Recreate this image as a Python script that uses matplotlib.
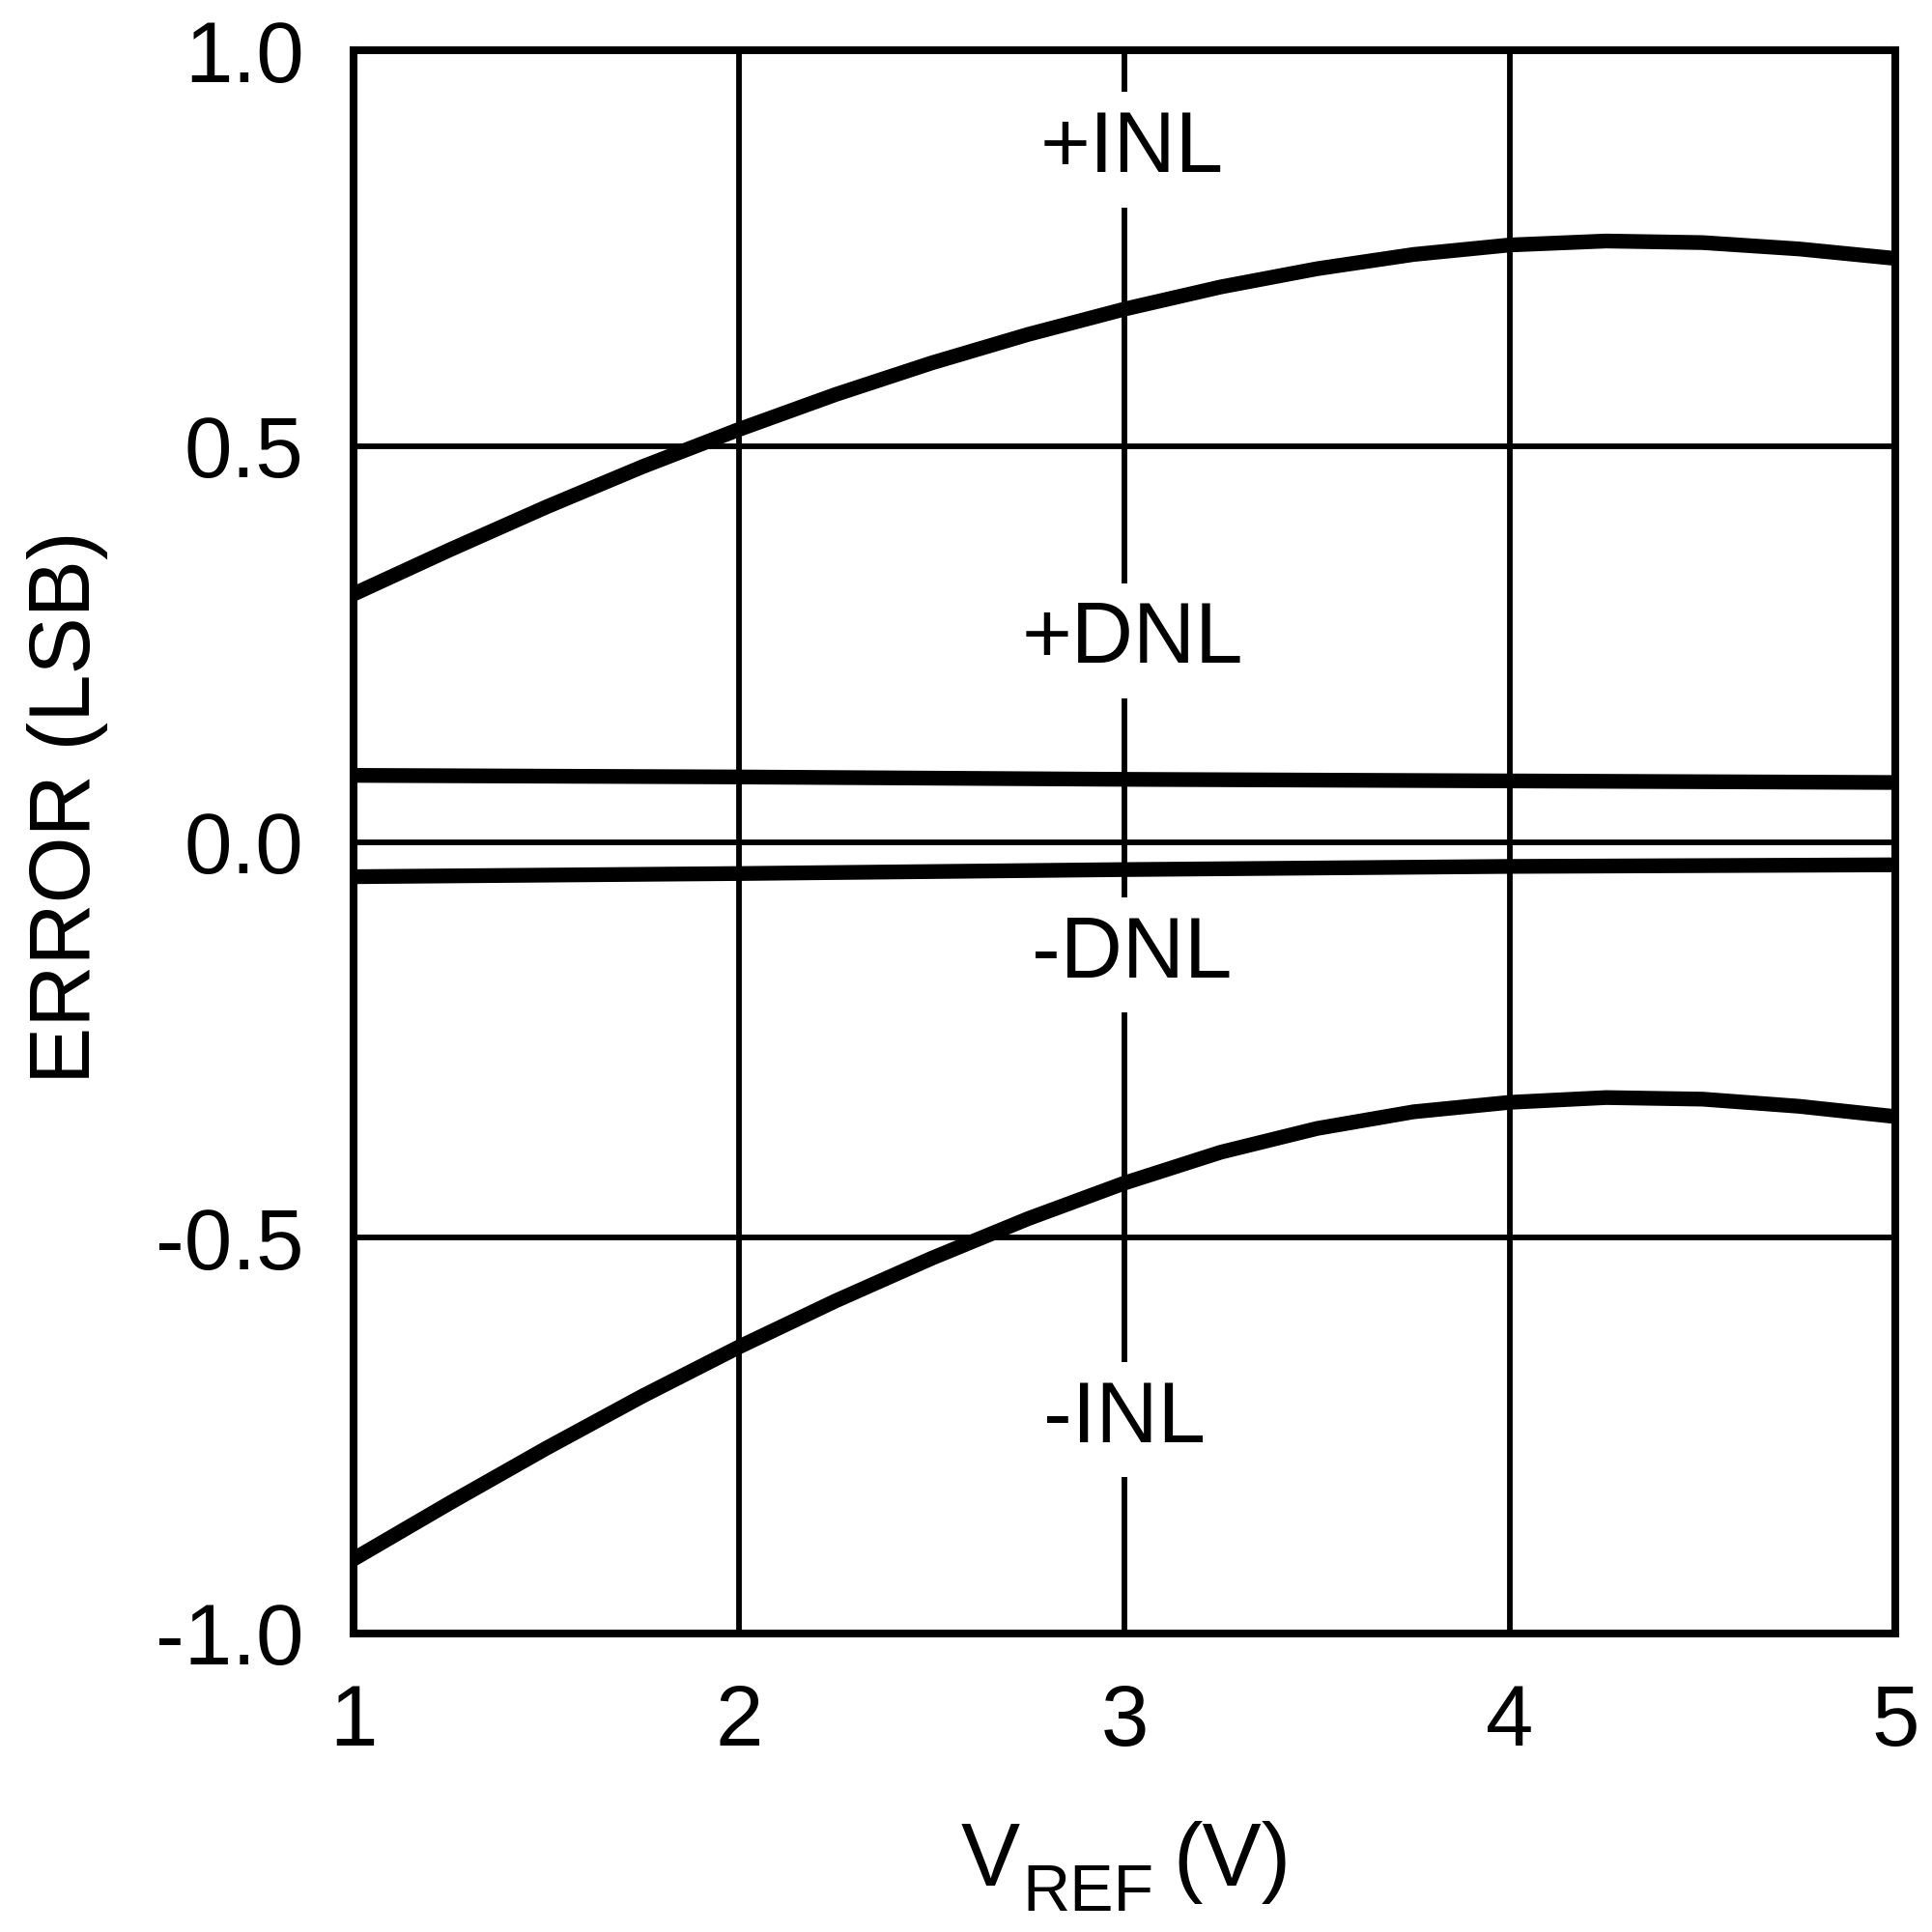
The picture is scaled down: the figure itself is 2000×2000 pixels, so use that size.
import matplotlib.pyplot as plt

plt.rcParams['font.family'] = 'Liberation Sans'

# data
vref = [1.0, 1.25, 1.5, 1.75, 2.0, 2.25, 2.5, 2.75, 3.0,
        3.25, 3.5, 3.75, 4.0, 4.25, 4.5, 4.75, 5.0]
inl_pos = [0.313, 0.369, 0.423, 0.474, 0.521, 0.565, 0.605, 0.641, 0.673,
           0.701, 0.724, 0.742, 0.754, 0.759, 0.757, 0.749, 0.737]
inl_neg = [-0.906, -0.835, -0.766, -0.700, -0.638, -0.580, -0.526, -0.476, -0.431,
           -0.392, -0.362, -0.341, -0.329, -0.323, -0.325, -0.334, -0.347]
dnl_vref = [1.0, 2.0, 3.0, 4.0, 5.0]
dnl_pos = [0.084, 0.082, 0.079, 0.077, 0.075]
dnl_neg = [-0.044, -0.040, -0.035, -0.031, -0.029]

xticks = [1, 2, 3, 4, 5]
yticks = [-1.0, -0.5, 0.0, 0.5, 1.0]
ytick_labels = ['-1.0', '-0.5', '0.0', '0.5', '1.0']

# curve labels: (x, y baseline, text)
labels = [(3.02, 0.846, '+INL'),
          (3.02, 0.226, '+DNL'),
          (3.02, -0.171, '-DNL'),
          (3.00, -0.758, '-INL')]

fig = plt.figure(figsize=(20, 20), dpi=100)
ax = fig.add_axes([366 / 2000, 309 / 2000, 1596 / 2000, 1639 / 2000])

for ys in (inl_pos, inl_neg):
    ax.plot(vref, ys, color='black', lw=11, solid_capstyle='butt',
            solid_joinstyle='round', zorder=2)
for ys in (dnl_pos, dnl_neg):
    ax.plot(dnl_vref, ys, color='black', lw=11, solid_capstyle='butt',
            solid_joinstyle='round', zorder=2)

for x, y, s in labels:
    ax.text(x, y, s, ha='center', va='baseline', fontsize=64, zorder=3,
            bbox=dict(facecolor='white', edgecolor='none', boxstyle='square,pad=0.2'))

ax.set_xlim(1, 5)
ax.set_ylim(-1, 1)
ax.set_xticks(xticks)
ax.set_xticklabels([str(t) for t in xticks])
ax.set_yticks(yticks)
ax.set_yticklabels(ytick_labels)
ax.tick_params(length=0, pad=37, labelsize=64)

ax.set_axisbelow(True)
ax.grid(True, color='black', lw=4.2)
for sp in ax.spines.values():
    sp.set_linewidth(5.8)
    sp.set_color('black')

# x label with a manual subscript: V_REF (V)
fig.text(995 / 2000, 1 - 1952 / 2000, 'V', fontsize=66, ha='left', va='baseline')
fig.text(1058 / 2000, 1 - 1978 / 2000, 'REF', fontsize=49, ha='left', va='baseline')
fig.text(1214 / 2000, 1 - 1952 / 2000, '(V)', fontsize=66, ha='left', va='baseline')

ax.set_ylabel('ERROR (LSB)', fontsize=64)
ax.yaxis.set_label_coords(-0.159, 0.522)

fig.savefig('out.png', dpi=100)
